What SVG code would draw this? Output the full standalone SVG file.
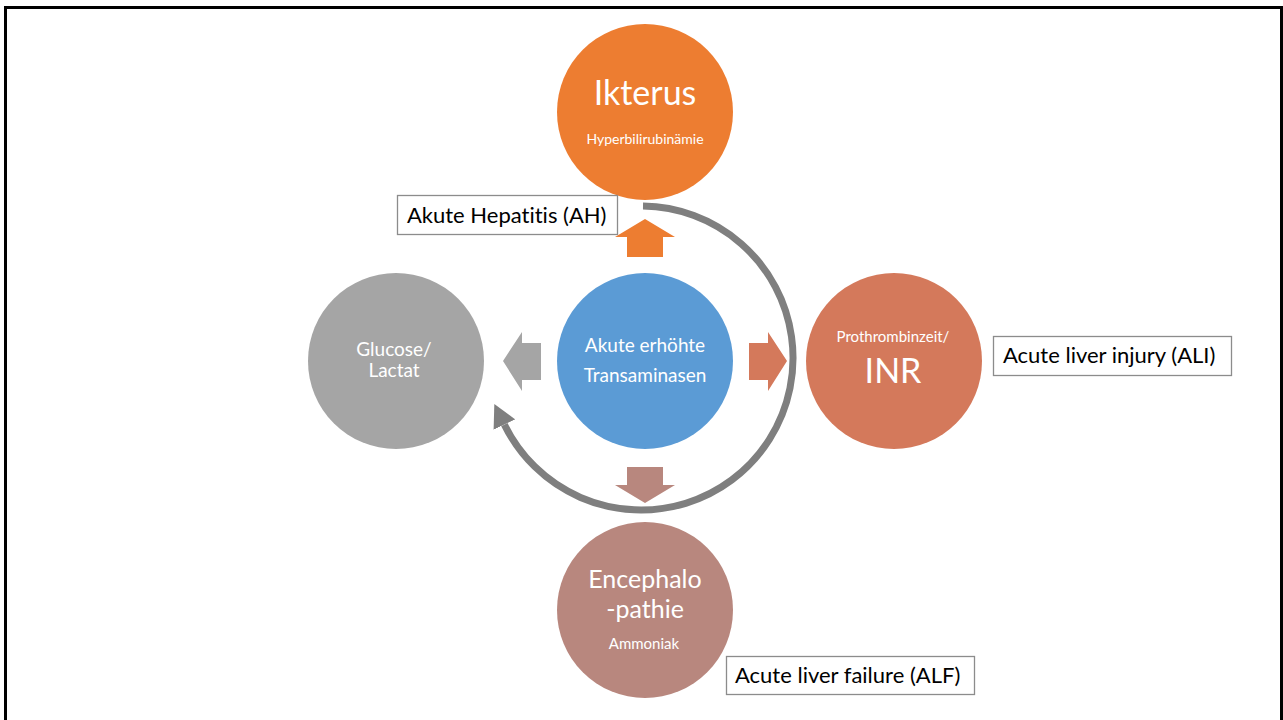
<svg xmlns="http://www.w3.org/2000/svg" width="1283" height="720" viewBox="0 0 1283 720">
  <defs>
    <style>
      text { font-variant-ligatures: none; }
      .lbl { font-family: Lato, "Noto Sans", "Liberation Sans", sans-serif; fill: #ffffff; text-anchor: middle; }
      .box rect { fill: #ffffff; stroke: #8c8c8c; stroke-width: 1.3; }
      .box text { font-family: Lato, "Noto Sans", "Liberation Sans", sans-serif; font-size: 22px; fill: #000000; }
      .cycle { fill: none; stroke: #7f7f7f; stroke-width: 7; }
    </style>
    <marker id="cycleHead" viewBox="0 -12 23 24" markerWidth="23" markerHeight="24" refX="0" refY="0" orient="auto" markerUnits="userSpaceOnUse">
      <path d="M0,-12 L23,0 L0,12 Z" fill="#7f7f7f"/>
    </marker>
  </defs>

  <rect width="1283" height="720" fill="#ffffff"/>
  <!-- page frame -->
  <rect x="5.5" y="7.5" width="1276" height="800" fill="none" stroke="#000000" stroke-width="3"/>

  <!-- connectors: block arrows from the centre and the cycle arrow -->
  <g id="connectors">
    <polygon id="arrow-up" points="627,257 627,237 615,237 645,219 675,237 663,237 663,257" fill="#ed7d31"/>
    <polygon id="arrow-left" points="541,343 522,343 522,332 503,361 522,391 522,380 541,380" fill="#a5a5a5"/>
    <polygon id="arrow-right" points="749,343 768,343 768,332 787,361 768,391 768,380 749,380" fill="#d4795b"/>
    <polygon id="arrow-down" points="627,467 663,467 663,485 675,485 645,503 615,485 627,485" fill="#b8877e"/>
    <path id="cycle-arrow" class="cycle" d="M643,206 A152,152 0 1 1 504.4,424.6" marker-end="url(#cycleHead)"/>
  </g>

  <g id="node-center">
    <circle cx="645" cy="361" r="88" fill="#5b9bd5"/>
    <text class="lbl" x="645" y="352" font-size="19">Akute erhöhte</text>
    <text class="lbl" x="645" y="382" font-size="19">Transaminasen</text>
  </g>

  <g id="node-ikterus">
    <circle cx="645" cy="112" r="88" fill="#ed7d31"/>
    <text class="lbl" x="645" y="105" font-size="34">Ikterus</text>
    <text class="lbl" x="645" y="144" font-size="14">Hyperbilirubinämie</text>
  </g>

  <g id="node-glucose">
    <circle cx="396" cy="361" r="88" fill="#a5a5a5"/>
    <text class="lbl" x="394" y="356" font-size="19">Glucose/</text>
    <text class="lbl" x="394" y="377" font-size="19">Lactat</text>
  </g>

  <g id="node-inr">
    <circle cx="894" cy="361" r="88" fill="#d4795b"/>
    <text class="lbl" x="893" y="342" font-size="15">Prothrombinzeit/</text>
    <text class="lbl" x="893" y="383" font-size="34">INR</text>
  </g>

  <g id="node-enceph">
    <circle cx="645" cy="610" r="88" fill="#b8877e"/>
    <text class="lbl" x="645" y="588" font-size="25">Encephalo</text>
    <text class="lbl" x="645" y="618" font-size="25">-pathie</text>
    <text class="lbl" x="644" y="649" font-size="15">Ammoniak</text>
  </g>

  <g id="label-ah" class="box">
    <rect x="397.5" y="195.5" width="220" height="39"/>
    <text x="407" y="223">Akute Hepatitis (AH)</text>
  </g>

  <g id="label-ali" class="box">
    <rect x="993.5" y="336.5" width="238" height="39"/>
    <text x="1003" y="363">Acute liver injury (ALI)</text>
  </g>

  <g id="label-alf" class="box">
    <rect x="726.5" y="656.5" width="248" height="38"/>
    <text x="735" y="683">Acute liver failure (ALF)</text>
  </g>
</svg>
